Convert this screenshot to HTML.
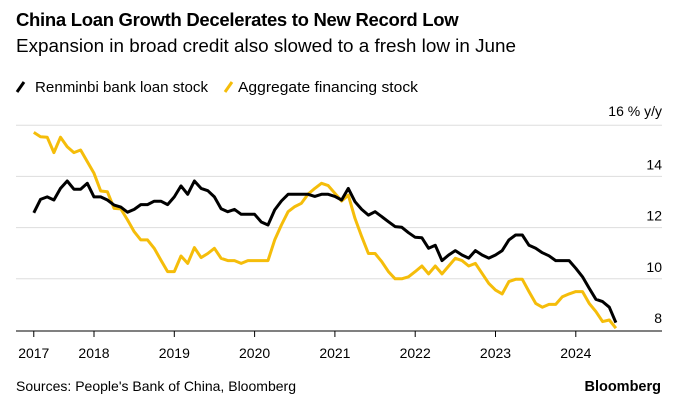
<!DOCTYPE html>
<html><head><meta charset="utf-8"><style>
body{margin:0;background:#fff;font-family:"Liberation Sans",Arial,sans-serif;}
svg{display:block}
</style></head><body>
<svg width="680" height="410" viewBox="0 0 680 410" id="c">
<text x="16" y="26" font-size="18.5" font-weight="bold" fill="#000" letter-spacing="-0.3">China Loan Growth Decelerates to New Record Low</text>
<text x="16" y="52" font-size="18" fill="#000" textLength="500" lengthAdjust="spacingAndGlyphs">Expansion in broad credit also slowed to a fresh low in June</text>
<g>
<line x1="17" y1="92" x2="24" y2="82" stroke="#000" stroke-width="3"/>
<text x="35" y="92" font-size="15" textLength="173" lengthAdjust="spacingAndGlyphs">Renminbi bank loan stock</text>
<line x1="225" y1="92" x2="232" y2="82" stroke="#f5bd0a" stroke-width="3"/>
<text x="238" y="92" font-size="15" textLength="180" lengthAdjust="spacingAndGlyphs">Aggregate financing stock</text>
</g>
<text x="662" y="116" font-size="14" text-anchor="end">16 % y/y</text>
<g id="grid"></g>
<g id="lines"></g>
<text x="16" y="391" font-size="14" textLength="280" lengthAdjust="spacingAndGlyphs">Sources: People's Bank of China, Bloomberg</text>
<text x="661" y="391" font-size="14.5" font-weight="bold" text-anchor="end">Bloomberg</text>
</svg>
<script>
const yTicks=[16,14,12,10,8];
const years=[2017,2018,2019,2020,2021,2022,2023,2024];
const startMonth=3; // months since Jan 2017 (first data point)
const loan=[12.58,13.1,13.2,13.08,13.53,13.82,13.5,13.5,13.73,13.2,13.2,13.08,12.88,12.8,12.6,12.71,12.9,12.9,13.03,13.03,12.9,13.2,13.63,13.3,13.82,13.53,13.44,13.2,12.74,12.62,12.71,12.52,12.52,12.52,12.22,12.1,12.69,13.04,13.3,13.3,13.3,13.3,13.22,13.3,13.3,13.22,13.08,13.53,13.01,12.71,12.49,12.62,12.43,12.23,12.04,12.01,11.8,11.62,11.6,11.19,11.31,10.71,10.93,11.1,10.93,10.81,11.1,10.93,10.81,10.93,11.1,11.52,11.71,11.71,11.31,11.19,11.02,10.9,10.71,10.71,10.71,10.41,10.08,9.63,9.2,9.11,8.89,8.29];
const financing=[15.72,15.55,15.53,14.93,15.53,15.16,14.93,15.03,14.58,14.12,13.43,13.4,12.75,12.73,12.3,11.84,11.52,11.52,11.19,10.73,10.28,10.28,10.89,10.6,11.22,10.83,10.99,11.19,10.8,10.71,10.71,10.6,10.71,10.71,10.71,10.71,11.52,12.1,12.62,12.82,12.95,13.31,13.53,13.73,13.64,13.34,13.04,13.27,12.36,11.65,10.99,10.99,10.67,10.28,10.0,10.0,10.08,10.28,10.5,10.19,10.5,10.19,10.5,10.8,10.71,10.5,10.6,10.21,9.82,9.56,9.41,9.89,9.98,9.98,9.5,9.04,8.89,9.0,9.0,9.3,9.41,9.5,9.5,9.04,8.72,8.33,8.39,8.07];
const NS="http://www.w3.org/2000/svg";
function y(v){return 330-(v-8)*25.6;}
function x(m){return 94+(m-12)*80.3/12;}
const grid=document.getElementById('grid'),lines=document.getElementById('lines');
function mk(t,a,p){const e=document.createElementNS(NS,t);for(const k in a)e.setAttribute(k,a[k]);p.appendChild(e);return e;}
yTicks.forEach(v=>{
  if(v<16){const t=mk('text',{x:662,y:y(v)-7,'font-size':14,'text-anchor':'end'},grid);t.textContent=v;
  
  }
  if(v>8){const l=mk('line',{x1:16,x2:662,y1:y(v),y2:y(v),stroke:'#ddd','stroke-width':1},grid);
  
  }
});
const ax=mk('line',{x1:16,x2:662,y1:331,y2:331,stroke:'#000','stroke-width':1},grid);


years.forEach((yr,i)=>{
  const xx=i===0?x(startMonth):x((yr-2017)*12);
  const tk=mk('line',{x1:xx,x2:xx,y1:331,y2:337,stroke:'#000','stroke-width':1},grid);
  
  
  const t=mk('text',{x:xx,y:358,'font-size':14,'text-anchor':'middle'},grid);t.textContent=yr;
  
  
});
function path(arr,col,name){
  const d=arr.map((v,i)=>(i?'L':'M')+x(startMonth+i).toFixed(1)+','+y(v).toFixed(1)).join('');
  const p=mk('path',{d:d,fill:'none',stroke:col,'stroke-width':3,'stroke-linejoin':'round'},lines);
  
  
}
path(financing,'#f5bd0a','financing-line');
path(loan,'#000','loan-line');
</script>
</body></html>
